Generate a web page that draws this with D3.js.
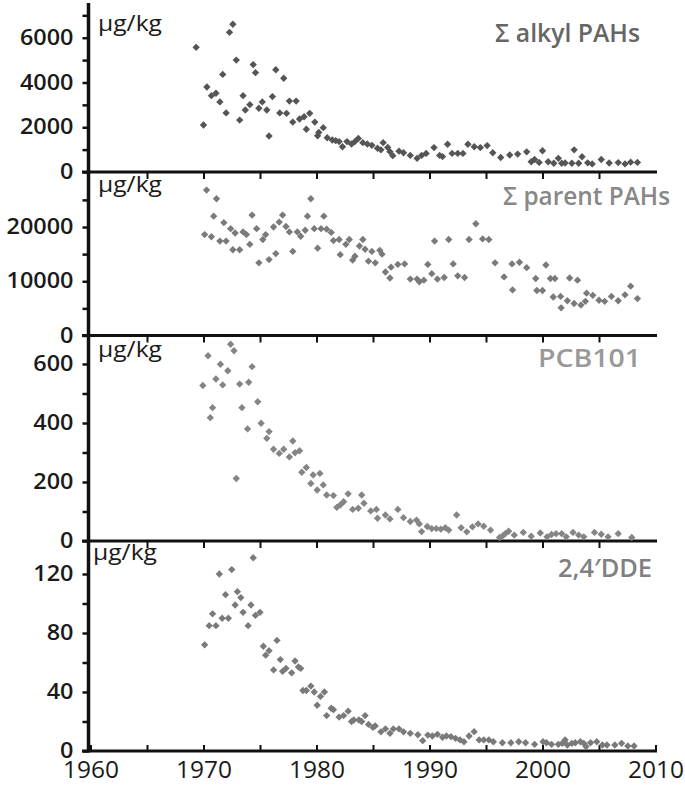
<!DOCTYPE html>
<html>
<head>
<meta charset="utf-8">
<script src="https://cdn.jsdelivr.net/npm/d3@7"></script>
<style>
  body { margin: 0; background: #fff; }
  text { font-family: "Open Sans", sans-serif; }
</style>
</head>
<body>
<div id="chart"></div>
<script>
// data: [year, value in µg/kg]
const alkylPAHs = [
  [1969.35,5570],[1970.0,2100],[1970.3,3800],[1970.7,3410],[1971.1,3520],[1971.45,3130],[1971.7,4360],
  [1972.0,2640],[1972.3,6240],[1972.6,6600],[1972.9,5000],[1973.2,2320],[1973.5,3410],[1973.7,2770],
  [1974.1,3010],[1974.4,4800],[1974.6,4440],[1974.9,2850],[1975.2,3130],[1975.6,2770],[1975.8,1610],
  [1976.1,3370],[1976.4,4570],[1976.75,2640],[1977.1,4190],[1977.35,2620],[1977.6,3170],[1977.9,2230],
  [1978.2,3170],[1978.5,2370],[1978.9,2470],[1979.1,1910],[1979.4,2620],[1979.85,2230],[1980.1,1620],
  [1980.2,1770],[1980.6,1980],[1980.95,1530],[1981.4,1430],[1981.7,1400],[1982.0,1360],[1982.3,1130],
  [1982.7,1360],[1983.1,1250],[1983.4,1360],[1983.7,1500],[1984.1,1310],[1984.5,1250],[1984.9,1190],
  [1985.4,1060],[1985.7,990],[1985.9,1310],[1986.3,1100],[1986.5,910],[1986.75,730],[1987.3,930],
  [1987.7,860],[1988.3,740],[1988.9,610],[1989.3,740],[1989.7,830],[1990.4,1090],[1990.9,740],
  [1991.15,690],[1991.6,1240],[1992.0,830],[1992.5,830],[1992.96,830],[1993.4,1240],[1993.96,1130],
  [1994.5,1090],[1995.1,1180],[1995.6,860],[1996.3,650],[1997.1,760],[1997.8,800],[1998.6,900],
  [1999.0,460],[1999.3,560],[1999.7,430],[2000.0,950],[2000.5,460],[2001.0,390],[2001.4,610],
  [2001.7,390],[2002.0,400],[2002.6,390],[2002.8,990],[2003.2,390],[2003.5,680],[2004.0,410],
  [2004.4,360],[2005.2,560],[2005.9,400],[2006.7,420],[2007.3,360],[2007.8,440],[2008.4,430]
];

const parentPAHs = [
  [1970.27,26800],[1970.1,18600],[1970.7,18200],[1971.15,25200],[1970.9,22000],[1971.45,17400],
  [1971.8,20800],[1972.0,17400],[1972.4,19700],[1972.6,15800],[1972.8,18900],[1973.2,15800],
  [1973.5,19100],[1973.8,18600],[1974.1,16800],[1974.3,22200],[1974.7,19700],[1974.9,13400],
  [1975.25,17700],[1975.5,18600],[1975.8,14000],[1976.2,20000],[1976.4,15100],[1976.7,20900],
  [1977.0,22200],[1977.3,20100],[1977.6,19100],[1977.9,15500],[1978.3,19100],[1978.6,18300],
  [1979.0,19400],[1979.2,22000],[1979.5,25200],[1979.8,19700],[1980.1,16100],[1980.4,19700],
  [1980.65,22000],[1980.9,19600],[1981.3,19000],[1981.5,17500],[1982.0,17700],[1982.1,14900],
  [1982.6,16800],[1982.9,17700],[1983.2,13900],[1983.4,14600],[1983.8,16500],[1984.1,17700],
  [1984.3,15900],[1984.6,13700],[1984.9,15500],[1985.2,13400],[1985.6,15700],[1985.8,15000],
  [1986.1,11700],[1986.5,10600],[1986.6,12600],[1987.2,13100],[1987.8,13200],[1988.3,10400],
  [1988.9,10400],[1989.1,9900],[1989.5,10200],[1989.85,13100],[1990.2,11400],[1990.45,17400],
  [1990.7,10400],[1991.3,10700],[1991.7,17700],[1992.1,13200],[1992.5,11000],[1993.1,10700],
  [1993.5,17700],[1994.1,20600],[1994.7,17800],[1995.25,17700],[1995.8,13400],[1996.6,10800],
  [1997.3,13200],[1997.35,8400],[1997.96,13500],[1998.6,12500],[1999.4,10500],[1999.5,8300],
  [2000.0,8300],[2000.3,13000],[2000.7,10500],[2001.1,10500],[2000.95,7100],[2001.6,7200],
  [2001.65,5100],[2002.2,6400],[2002.4,10600],[2002.8,5900],[2003.1,10200],[2003.4,5600],
  [2003.8,6300],[2003.9,7800],[2004.45,7400],[2005.0,6500],[2005.5,6300],[2006.1,7200],
  [2006.7,6400],[2007.3,7500],[2007.8,9100],[2008.4,6800]
];

const pcb101 = [
  [1969.94,527],[1970.4,628],[1970.8,452],[1970.6,418],[1971.1,549],[1971.5,599],[1971.7,529],
  [1972.15,577],[1972.4,667],[1972.7,645],[1972.9,212],[1973.2,532],[1973.4,452],[1973.9,380],
  [1974.0,538],[1974.3,591],[1974.8,472],[1975.1,399],[1975.6,348],[1975.8,371],[1976.2,311],
  [1976.7,297],[1977.1,311],[1977.6,285],[1977.9,339],[1978.1,299],[1978.5,306],[1978.7,233],
  [1979.1,249],[1979.5,195],[1979.7,224],[1980.3,229],[1980.06,173],[1980.6,190],[1980.9,156],
  [1981.5,154],[1981.8,114],[1982.1,122],[1982.4,133],[1982.8,160],[1983.2,107],[1983.7,111],
  [1984.0,156],[1984.2,128],[1984.8,102],[1985.3,107],[1985.4,77],[1986.1,88],[1986.5,75],
  [1987.2,107],[1987.7,79],[1988.3,66],[1988.85,71],[1989.1,58],[1989.3,32],[1989.8,49],
  [1990.2,42],[1990.6,42],[1991.0,40],[1991.4,45],[1991.7,37],[1992.4,88],[1992.8,45],
  [1993.3,31],[1993.8,48],[1994.3,58],[1994.8,50],[1995.4,37],[1996.2,12],[1996.5,18],
  [1996.7,25],[1997.0,33],[1997.5,20],[1998.3,29],[1999.0,16],[1999.8,27],[2000.4,14],
  [2000.8,22],[2001.2,25],[2001.7,25],[2002.1,14],[2002.7,29],[2003.2,20],[2003.65,14],
  [2004.6,29],[2005.2,23],[2005.8,14],[2006.7,25],[2007.9,12]
];

const dde24 = [
  [1970.1,72],[1970.5,85],[1970.8,93],[1971.1,85],[1971.4,120],[1971.65,90],[1971.95,106],
  [1972.2,90],[1972.5,123],[1972.8,99],[1973.0,108],[1973.3,104],[1973.5,94],[1973.95,85],
  [1974.2,99],[1974.4,131],[1974.6,92],[1975.0,94],[1975.3,71],[1975.5,65],[1975.8,68],
  [1976.2,55],[1976.5,75],[1976.8,62],[1977.0,54],[1977.3,56],[1977.8,53],[1978.1,61],
  [1978.4,57],[1978.6,56],[1978.8,41],[1979.1,41],[1979.5,44],[1979.8,40],[1980.06,31],
  [1980.35,37],[1980.7,40],[1980.9,24],[1981.3,29],[1981.5,28],[1982.0,23],[1982.4,24],
  [1982.8,27],[1983.1,20],[1983.3,21],[1983.75,21],[1984.0,20],[1984.3,24],[1984.6,18],
  [1985.0,16],[1985.2,17],[1985.7,13],[1986.1,15],[1986.5,12],[1986.8,15],[1987.3,15],
  [1987.7,13],[1988.3,12],[1988.97,11],[1989.4,7],[1989.85,10.8],[1990.25,10.2],[1990.7,11.3],
  [1991.15,9.3],[1991.5,10.2],[1991.9,9.7],[1992.3,8.6],[1992.7,7.5],[1993.05,6.3],[1993.5,10.2],
  [1993.95,13.1],[1994.4,7.5],[1994.8,7.5],[1995.25,7.5],[1995.65,6.3],[1996.45,5.6],[1997.2,5.6],
  [1997.9,6.3],[1998.5,5.6],[1999.3,4.5],[2000.05,6.3],[2000.35,5.6],[2000.8,4.5],[2001.4,4.5],
  [2001.75,5.2],[2002.0,7.5],[2002.2,4.1],[2002.6,5.2],[2002.9,5.6],[2003.35,6.3],[2003.65,5.2],
  [2003.85,3.0],[2004.25,5.6],[2004.8,6.3],[2005.3,4.1],[2005.7,4.1],[2006.4,4.1],[2007.0,5.2],
  [2007.55,3.4],[2008.1,3.4]
];

const panelTitles = ['\u03A3 alkyl PAHs', '\u03A3 parent PAHs', 'PCB101', '2,4\u2032DDE'];
const unitLabel = '\u00B5g/kg';
const yTickLabels = [[0, 2000, 4000, 6000], [0, 10000, 20000], [0, 200, 400, 600], [0, 40, 80, 120]];
const yTickSteps = [1000, 5000, 100, 20];
const yTickMax = [7000, 25000, 600, 120];
const yMax = [7500, 30000, 700, 140];
const xTickLabels = [1960, 1970, 1980, 1990, 2000, 2010];

const width = 685, height = 785;
const axisLeftX = 88.5;

const svg = d3.select('#chart')
  .append('svg')
  .attr('width', width)
  .attr('height', height);

const x = d3.scaleLinear().domain([1960, 2010]).range([90.5, 655.5]);

// layout per panel: bottom/top pixel of value range, text positions
const layout = [
  { data: alkylPAHs, bottom: 172, top: 4.15, unitX: 98, unitY: 31, titleY: 42, titleEnd: 640, titleLen: 145, titleColor: '#666', mark: '#555' },
  { data: parentPAHs, bottom: 335.5, top: 172.75, unitX: 98, unitY: 192, titleY: 205, titleEnd: 670, titleLen: 167, titleColor: '#888', mark: '#7a7a7a' },
  { data: pcb101, bottom: 541, top: 334.5, unitX: 98, unitY: 357, titleY: 367, titleEnd: 641, titleLen: 103, titleColor: '#999', mark: '#858585' },
  { data: dde24, bottom: 751, top: 544.5, unitX: 93, unitY: 560, titleY: 577, titleEnd: 652, titleLen: 94, titleColor: '#808080', mark: '#7a7a7a' }
];

const diamond = d3.symbol().type(d3.symbolSquare).size(27);

layout.forEach((p, i) => {
  const y = d3.scaleLinear().domain([0, yMax[i]]).range([p.bottom, p.top]);
  const labels = new Set(yTickLabels[i]);

  // y axis ticks
  const ya = svg.append('g')
    .attr('transform', `translate(${axisLeftX},0)`)
    .call(d3.axisLeft(y)
      .tickValues(d3.range(0, yTickMax[i] + 1, yTickSteps[i]))
      .tickFormat(d => labels.has(d) ? d : '')
      .tickSize(6)
      .tickPadding(9));
  ya.select('.domain').remove();
  ya.selectAll('.tick line').attr('stroke', '#111').attr('stroke-width', 2.5);
  ya.selectAll('.tick text')
    .attr('fill', '#1a1a1a')
    .style('font-size', '21px')
    .style('font-weight', 600)
    .filter(d => labels.has(d))
    .attr('textLength', d => String(d).length * 13.4)
    .attr('lengthAdjust', 'spacingAndGlyphs');

  // baseline of the panel with 5-year ticks
  const last = i === layout.length - 1;
  const xa = svg.append('g')
    .attr('transform', `translate(0,${p.bottom})`)
    .call(d3.axisBottom(x)
      .tickValues(last ? d3.range(1960, 2011, 5) : d3.range(1965, 2006, 5))
      .tickFormat(d => (last && xTickLabels.includes(d)) ? d : '')
      .tickSizeInner(last ? -6 : 7)
      .tickSizeOuter(0)
      .tickPadding(11));
  xa.select('.domain').remove();
  xa.selectAll('.tick line').attr('stroke', '#111').attr('stroke-width', 2);
  xa.selectAll('.tick text')
    .attr('fill', '#1a1a1a')
    .style('font-size', '23px')
    .style('font-weight', 500)
    .filter(d => xTickLabels.includes(d))
    .attr('textLength', 56)
    .attr('lengthAdjust', 'spacingAndGlyphs');

  svg.append('line')
    .attr('x1', 82).attr('x2', 657)
    .attr('y1', p.bottom).attr('y2', p.bottom)
    .attr('stroke', '#111')
    .attr('stroke-width', 3);

  // points
  svg.append('g')
    .selectAll('path')
    .data(p.data)
    .enter()
    .append('path')
    .attr('d', diamond)
    .attr('transform', d => `translate(${x(d[0])},${y(d[1])}) rotate(45)`)
    .attr('fill', p.mark);

  svg.append('text')
    .attr('x', p.unitX)
    .attr('y', p.unitY)
    .attr('fill', '#1a1a1a')
    .style('font-size', '22px')
    .attr('textLength', 64)
    .attr('lengthAdjust', 'spacingAndGlyphs')
    .text(unitLabel);

  svg.append('text')
    .attr('x', p.titleEnd - p.titleLen)
    .attr('y', p.titleY)
    .attr('fill', p.titleColor)
    .style('font-size', '26px')
    .style('font-weight', 600)
    .attr('textLength', p.titleLen)
    .attr('lengthAdjust', 'spacingAndGlyphs')
    .text(panelTitles[i]);
});

// vertical axis line shared by all panels
svg.append('line')
  .attr('x1', axisLeftX).attr('x2', axisLeftX)
  .attr('y1', 3).attr('y2', 752.5)
  .attr('stroke', '#111')
  .attr('stroke-width', 3.5);
</script>
</body>
</html>
